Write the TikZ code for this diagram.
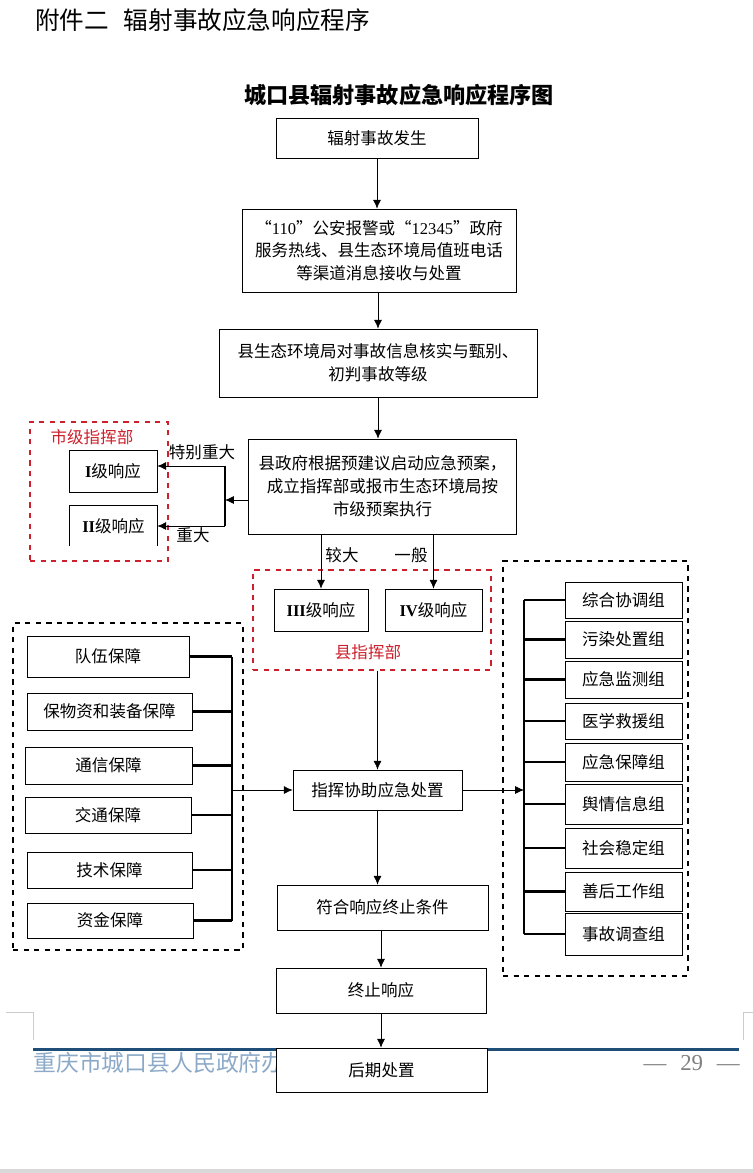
\documentclass[tikz,border=0pt]{standalone}
\usepackage{fontspec}
\setmainfont{Noto Sans CJK SC}
\newfontfamily\timesfont{Liberation Serif}
\usetikzlibrary{arrows.meta}
\definecolor{framered}{RGB}{204,32,44}
\definecolor{footblue}{RGB}{31,78,121}
\definecolor{foottext}{RGB}{140,170,200}

\begin{document}
\begin{tikzpicture}[x=0.02cm,y=-0.02cm,
  every node/.style={font=\fontsize{9.4}{13}\selectfont},
  pbox/.style 2 args={draw,fill=white,inner sep=0pt,align=center,
    minimum width=#1*0.02cm,minimum height=#2*0.02cm},
  frm/.style 2 args={draw,dashed,thick,inner sep=0pt,
    minimum width=#1*0.02cm,minimum height=#2*0.02cm},
  arr/.style={-{Latex[length=5pt,width=4.5pt]},thin},
  bar/.style={line width=1.2pt}]
  \useasboundingbox (0,0) rectangle (753,1173);

  % page furniture
  \draw[gray!40] (6,1012) -- (33,1012) -- (33,1040);
  \draw[gray!40] (753,1012) -- (743,1012) -- (743,1040);
  \draw[gray!30,line width=2pt] (0,1171) -- (753,1171);
  \draw[footblue,line width=1.7pt] (33,1049) -- (739,1049);
  \node[anchor=west,inner sep=0pt,text=foottext,font=\fontsize{13}{15}\selectfont] (foot) at (33,1063) {重庆市城口县人民政府办公室};
  \node[anchor=east,inner sep=0pt,text=gray,font=\timesfont\fontsize{13}{15}\selectfont] (page) at (740,1063) {—\hspace{0.6em}29\hspace{0.6em}—};

  % titles
  \node[anchor=west,inner sep=0pt,font=\fontsize{14}{16}\selectfont] (head) at (35,20) {附件二\hspace{0.6em}辐射事故应急响应程序};
  \node[font=\bfseries\fontsize{12.6}{15}\selectfont] (title) at (399,95) {城口县辐射事故应急响应程序图};

  % frames
  \node[frm={138}{139},framered] (cityfrm) at (99,491.5) {};
  \node[frm={238}{100},framered] (countyfrm) at (372,620) {};
  \node[frm={230}{327}] (leftfrm) at (128,786.5) {};
  \node[frm={185}{415}] (rightfrm) at (595.5,768.5) {};
  \node[text=framered] (citylbl) at (92,437) {市级指挥部};
  \node[text=framered] (countylbl) at (368,652) {县指挥部};

  % main chain
  \node[pbox={202}{40}] (occur) at (377,138) {辐射事故发生};
  \node[pbox={274}{83}] (recv) at (379,250.5) {“{\timesfont 110}”公安报警或“{\timesfont 12345}”政府\\服务热线、县生态环境局值班电话\\等渠道消息接收与处置};
  \node[pbox={318}{68}] (verify) at (378,363) {县生态环境局对事故信息核实与甄别、\\初判事故等级};
  \node[pbox={268}{95}] (launch) at (382.5,486.5) {县政府根据预建议启动应急预案，\\成立指挥部或报市生态环境局按\\市级预案执行};

  % response levels
  \node[pbox={88}{42}] (lv1) at (113,471) {{\timesfont\bfseries I}级响应};
  \node[inner sep=0pt,minimum width=87*0.02cm,minimum height=40*0.02cm] (lv2) at (113.5,526) {{\timesfont\bfseries II}级响应};
  \draw (lv2.south west) |- (lv2.north east) -- (lv2.south east);
  \node[pbox={94}{42}] (lv3) at (321,610) {{\timesfont\bfseries III}级响应};
  \node[pbox={97}{42}] (lv4) at (433.5,610) {{\timesfont\bfseries IV}级响应};

  \node[pbox={169}{40}] (cmd) at (377.5,790) {指挥协助应急处置};
  \node[pbox={211}{45}] (endcond) at (382.5,907.5) {符合响应终止条件};
  \node[pbox={210}{45}] (stop) at (381,990.5) {终止响应};
  \node[pbox={211}{44}] (after) at (381.5,1070) {后期处置};

  % support boxes
  \foreach \i/\x/\y/\w/\h/\t in {1/108/656.5/162/41/队伍保障,
      2/109.5/711.5/165/37/保物资和装备保障,
      3/108.5/765.5/167/37/通信保障,
      4/108/815/166/36/交通保障,
      5/109.5/870/165/36/技术保障,
      6/110/920.5/166/35/资金保障}
    \node[pbox={\w}{\h}] (lb\i) at (\x,\y) {\t};

  % working groups
  \foreach \i/\y/\h/\t in {1/600/36/综合协调组, 2/639.5/37/污染处置组,
      3/679.5/37/应急监测组, 4/721/36/医学救援组, 5/762/38/应急保障组,
      6/804/40/舆情信息组, 7/848/40/社会稳定组, 8/891.5/39/善后工作组,
      9/934/42/事故调查组}
    \node[pbox={117}{\h}] (rb\i) at (623.5,\y) {\t};

  % connectors
  \draw[arr] (occur.south) -- (occur.south |- recv.north);
  \draw[arr] (recv.south -| verify.north) -- (verify.north);
  \draw[arr] (verify.south) -- (verify.south |- launch.north);

  \coordinate (jn) at (225,500);
  \coordinate (jtop) at (225,466);
  \coordinate (jbot) at (225,526);
  \draw[arr] (launch.west |- jn) -- (jn);
  \draw[bar] (jtop) -- (jbot);
  \draw[arr] (jtop) -- (jtop -| lv1.east);
  \draw[arr] (jbot) -- (jbot -| lv2.east);
  \node (sev1) at (202,452) {特别重大};
  \node (sev2) at (193,535) {重大};

  \draw[arr] (launch.south -| lv3.north) -- (lv3.north);
  \draw[arr] (launch.south -| lv4.north) -- (lv4.north);
  \node (sev3) at (342,555) {较大};
  \node (sev4) at (411,555) {一般};

  \draw[arr] (countyfrm.south -| cmd.north) -- (cmd.north);
  \draw[arr] (cmd.south) -- (cmd.south |- endcond.north);
  \draw[arr] (endcond.south -| stop.north) -- (stop.north);
  \draw[arr] (stop.south) -- (stop.south |- after.north);

  \coordinate (lbar) at (232,0);
  \foreach \i in {1,...,6}
    \draw[bar] (lb\i.east) -- (lb\i.east -| lbar);
  \draw[bar] (lb1.east -| lbar) -- (lb6.east -| lbar);
  \draw[arr] (cmd.west -| lbar) -- (cmd.west);

  \coordinate (rbar) at (524,0);
  \foreach \i in {1,...,9}
    \draw[bar] (rb\i.west) -- (rb\i.west -| rbar);
  \draw[bar] (rb1.west -| rbar) -- (rb9.west -| rbar);
  \draw[arr] (cmd.east) -- (cmd.east -| rbar);
\end{tikzpicture}
\end{document}
